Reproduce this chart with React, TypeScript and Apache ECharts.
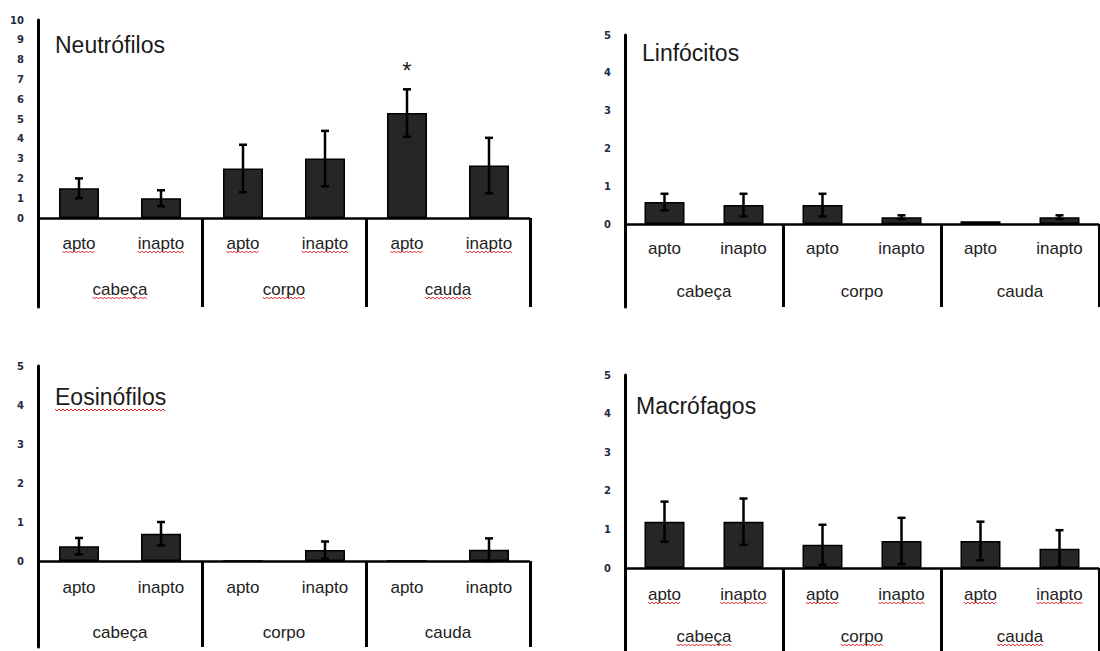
import { useEffect, useRef } from 'react';
import * as echarts from 'echarts';

const subCategories = ['apto', 'inapto', 'apto', 'inapto', 'apto', 'inapto'];
const groups = ['cabeça', 'corpo', 'cauda'];

const neutrofilosMean = [1.5, 1.0, 2.5, 3.0, 5.3, 2.65];
const neutrofilosErr = [0.5, 0.4, 1.2, 1.4, 1.2, 1.4];
const neutrofilosMark = ['', '', '', '', '*', ''];

const linfocitosMean = [0.58, 0.5, 0.5, 0.18, 0.07, 0.18];
const linfocitosErr = [0.22, 0.3, 0.3, 0.05, 0, 0.05];

const eosinofilosMean = [0.38, 0.7, 0, 0.28, 0, 0.29];
const eosinofilosErr = [0.21, 0.3, 0, 0.22, 0, 0.29];

const macrofagosMean = [1.2, 1.2, 0.6, 0.7, 0.7, 0.5];
const macrofagosErr = [0.52, 0.6, 0.52, 0.6, 0.5, 0.48];

const ticksTen = [0, 1, 2, 3, 4, 5, 6, 7, 8, 9, 10];
const ticksFive = [0, 1, 2, 3, 4, 5];
const noMarks = ['', '', '', '', '', ''];

const FONT = 'Liberation Sans, Arial, sans-serif';
const LABEL_SIZE = 17;
const TITLE_SIZE = 23;

const panels = [
  { title: 'Neutrófilos', mean: neutrofilosMean, err: neutrofilosErr, marks: neutrofilosMark, ticks: ticksTen, max: 10,
    left: 38, top: 20, width: 492, height: 287, zeroY: 218, titleX: 55, titleY: 33, subY: 243, groupY: 289,
    squiggleLabels: true, squiggleTitle: false },
  { title: 'Linfócitos', mean: linfocitosMean, err: linfocitosErr, marks: noMarks, ticks: ticksFive, max: 5,
    left: 625, top: 35, width: 474, height: 272, zeroY: 224, titleX: 642, titleY: 41, subY: 248, groupY: 291,
    squiggleLabels: false, squiggleTitle: false },
  { title: 'Eosinófilos', mean: eosinofilosMean, err: eosinofilosErr, marks: noMarks, ticks: ticksFive, max: 5,
    left: 38, top: 366, width: 492, height: 281, zeroY: 561, titleX: 55, titleY: 385, subY: 587, groupY: 632,
    squiggleLabels: false, squiggleTitle: true },
  { title: 'Macrófagos', mean: macrofagosMean, err: macrofagosErr, marks: noMarks, ticks: ticksFive, max: 5,
    left: 625, top: 375, width: 474, height: 290, zeroY: 568, titleX: 636, titleY: 394, subY: 594, groupY: 636,
    squiggleLabels: true, squiggleTitle: false },
];

function measure(text: string, size: number) {
  const c = document.createElement('canvas').getContext('2d');
  if (!c) return text.length * size * 0.5;
  c.font = `${size}px "Liberation Sans", Arial, sans-serif`;
  return c.measureText(text).width;
}

function wavePoints(x0: number, x1: number, y: number) {
  const pts: number[][] = [];
  let k = 0;
  for (let x = x0; x <= x1; x += 2) {
    pts.push([x, y + (k % 2 === 0 ? 0 : 2)]);
    k++;
  }
  return pts;
}

const waveStyle = { stroke: '#e02424', lineWidth: 1, fill: null };

export default function App() {
  const ref = useRef<HTMLDivElement>(null);
  useEffect(() => {
    if (!ref.current) return;
    const chart = echarts.init(ref.current, undefined, { renderer: 'svg' });
    const grid: any[] = [];
    const xAxis: any[] = [];
    const yAxis: any[] = [];
    const series: any[] = [];
    const title: any[] = [];
    const graphic: any[] = [];
    panels.forEach((p, i) => {
      const bottom = p.top + p.height;
      const min = -p.max * (bottom - p.zeroY) / (p.zeroY - p.top);
      grid.push({ left: p.left, top: p.top, width: p.width, height: p.height, containLabel: false, outerBoundsMode: 'none' });
      title.push({
        text: p.title, left: p.titleX, top: p.titleY, padding: 0,
        textStyle: { fontSize: TITLE_SIZE, fontWeight: 'normal', color: '#1a1a1a', fontFamily: FONT },
      });
      if (p.squiggleTitle) {
        const w = measure(p.title, TITLE_SIZE);
        graphic.push({ type: 'polyline', shape: { points: wavePoints(p.titleX, p.titleX + w, p.titleY + TITLE_SIZE + 1) }, style: waveStyle, silent: true });
      }
      xAxis.push({
        type: 'category', gridIndex: i, data: subCategories, position: 'bottom',
        axisLine: { show: false, onZero: false },
        axisTick: { show: false },
        axisLabel: { inside: true, margin: bottom - p.subY - 9, fontSize: LABEL_SIZE, color: '#222', fontFamily: FONT },
      });
      xAxis.push({
        type: 'category', gridIndex: i, data: groups, position: 'bottom',
        axisLine: { show: false, onZero: false },
        axisTick: { show: true, inside: true, length: bottom - p.zeroY, lineStyle: { color: '#000', width: 3 } },
        axisLabel: { inside: true, margin: bottom - p.groupY - 9, fontSize: LABEL_SIZE, color: '#222', fontFamily: FONT },
      });
      yAxis.push({
        type: 'value', gridIndex: i, min, max: p.max,
        axisLine: { show: true, onZero: false, lineStyle: { color: '#000', width: 3 } },
        axisTick: { show: false },
        splitLine: { show: false },
        axisLabel: {
          customValues: p.ticks, margin: 14, fontSize: 10, fontWeight: 'bold',
          color: '#1f2a44', fontFamily: 'DejaVu Sans',
        },
      });
      series.push({
        type: 'bar', xAxisIndex: 2 * i, yAxisIndex: i, data: p.mean, barWidth: 40,
        itemStyle: { color: '#262626', borderColor: '#000', borderWidth: 1.5 },
        markLine: {
          silent: true, symbol: 'none', label: { show: false },
          lineStyle: { color: '#000', width: 2.5, type: 'solid' },
          data: [{ yAxis: 0 }],
        },
      });
      const errData = p.mean.map((m, k) => [k, m, p.err[k]]);
      series.push({
        type: 'custom', xAxisIndex: 2 * i, yAxisIndex: i, data: errData, z: 5,
        renderItem: (params: any, api: any) => {
          const x = api.value(0);
          const m = api.value(1);
          const e = api.value(2);
          const mark = p.marks[params.dataIndex];
          const children: any[] = [];
          const hi = api.coord([x, m + e]);
          if (e > 0) {
            const lo = api.coord([x, Math.max(m - e, 0)]);
            const style = { stroke: '#000', lineWidth: 2.5 };
            children.push({ type: 'line', shape: { x1: hi[0], y1: hi[1], x2: lo[0], y2: lo[1] }, style });
            children.push({ type: 'line', shape: { x1: hi[0] - 4, y1: hi[1], x2: hi[0] + 4, y2: hi[1] }, style });
            children.push({ type: 'line', shape: { x1: lo[0] - 4, y1: lo[1], x2: lo[0] + 4, y2: lo[1] }, style });
          }
          if (mark) {
            children.push({
              type: 'text', x: hi[0], y: hi[1] - 7,
              style: { text: mark, fontSize: 24, fill: '#222', align: 'center', verticalAlign: 'bottom', fontFamily: FONT },
            });
          }
          return { type: 'group', children };
        },
      });
      if (p.squiggleLabels) {
        series.push({
          type: 'custom', xAxisIndex: 2 * i, yAxisIndex: i, z: 6, silent: true, clip: false,
          data: subCategories.map((_, k) => [k, 0]),
          renderItem: (params: any, api: any) => {
            const c = api.coord([api.value(0), 0]);
            const w = measure(subCategories[params.dataIndex], LABEL_SIZE);
            const y = c[1] + (p.subY - p.zeroY) + 8;
            return { type: 'polyline', shape: { points: wavePoints(c[0] - w / 2, c[0] + w / 2, y) }, style: waveStyle };
          },
        });
        series.push({
          type: 'custom', xAxisIndex: 2 * i + 1, yAxisIndex: i, z: 6, silent: true, clip: false,
          data: groups.map((_, k) => [k, 0]),
          renderItem: (params: any, api: any) => {
            const c = api.coord([api.value(0), 0]);
            const w = measure(groups[params.dataIndex], LABEL_SIZE);
            const y = c[1] + (p.groupY - p.zeroY) + 8;
            return { type: 'polyline', shape: { points: wavePoints(c[0] - w / 2, c[0] + w / 2, y) }, style: waveStyle };
          },
        });
      }
    });
    chart.setOption({ animation: false, backgroundColor: '#fff', title, grid, xAxis, yAxis, series, graphic });
    return () => chart.dispose();
  }, []);
  return <div ref={ref} style={{ position: 'absolute', left: 0, top: 0, width: 1100, height: 651 }} />;
}
